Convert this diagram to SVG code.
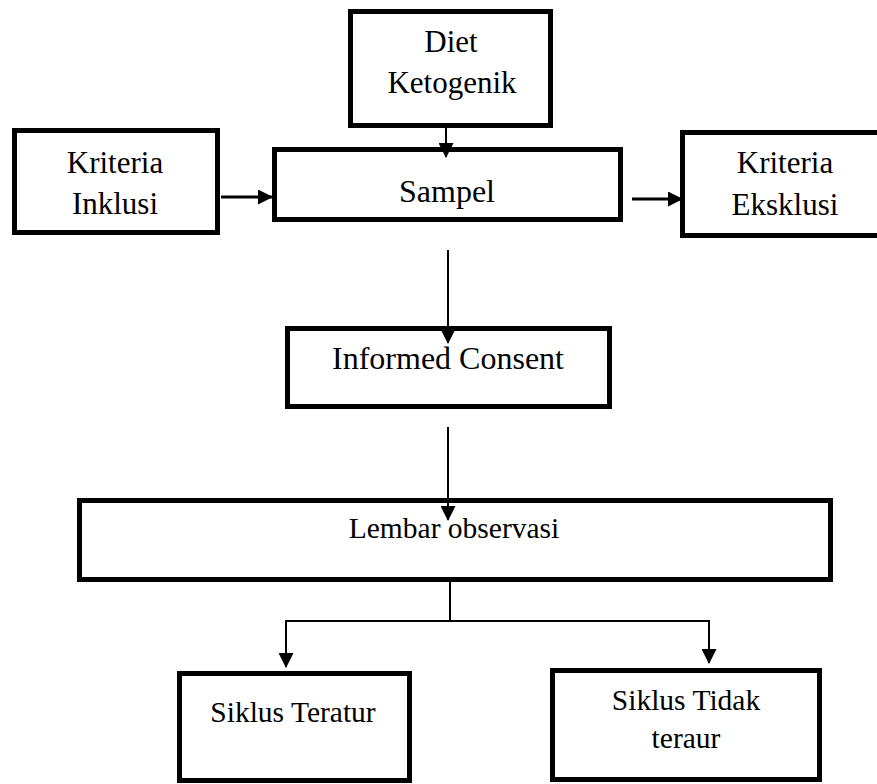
<svg xmlns="http://www.w3.org/2000/svg" width="877" height="784" viewBox="0 0 877 784">
<defs>
<style>
.box{fill:#fff;stroke:#000;stroke-width:5}
.lbl{font-family:"Liberation Serif","Times New Roman",serif;font-size:30px;fill:#000;text-anchor:middle}
.big{font-size:32px}
.mid{font-size:31px}
.sm{font-size:29.5px}
.ln{fill:none;stroke:#000;stroke-width:2}
.arr{marker-end:url(#ah)}
</style>
<marker id="ah" markerUnits="userSpaceOnUse" markerWidth="15" markerHeight="15" refX="14" refY="7.5" orient="auto" viewBox="0 0 15 15">
<path d="M0,0 L15,7.5 L0,15 z" fill="#000"/>
</marker>
</defs>
<rect width="877" height="784" fill="#fff"/>
<g id="diet"><rect class="box" x="350.5" y="11.5" width="200" height="114"/><text class="lbl mid" x="451" y="52">Diet</text><text class="lbl mid" x="452" y="93">Ketogenik</text></g>
<g id="inklusi"><rect class="box" x="14.5" y="130.5" width="203" height="102"/><text class="lbl mid" x="115" y="173">Kriteria</text><text class="lbl mid" x="115" y="214">Inklusi</text></g>
<g id="sampel"><rect class="box" x="274.5" y="149.5" width="346" height="70"/><text class="lbl big" x="447" y="202">Sampel</text></g>
<g id="eksklusi"><rect class="box" x="682.5" y="132.5" width="200" height="103"/><text class="lbl mid" x="785" y="173">Kriteria</text><text class="lbl mid" x="785" y="215">Eksklusi</text></g>
<g id="consent"><rect class="box" x="287.5" y="328.5" width="322" height="78"/><text class="lbl big" x="448" y="369">Informed Consent</text></g>
<g id="lembar"><rect class="box" x="79.5" y="500.5" width="751" height="79"/><text class="lbl sm" x="454" y="538">Lembar observasi</text></g>
<g id="teratur"><rect class="box" x="179.5" y="673.5" width="230" height="107"/><text class="lbl sm" x="293" y="722">Siklus Teratur</text></g>
<g id="tidak"><rect class="box" x="552.5" y="670.5" width="267" height="109"/><text class="lbl sm" x="686" y="710">Siklus Tidak</text><text class="lbl sm" x="686" y="748">teraur</text></g>
<g id="connectors">
<line class="ln arr" x1="446" y1="128" x2="446" y2="157"/>
<line class="ln arr" x1="221" y1="197" x2="272" y2="197" style="stroke-width:3"/>
<line class="ln arr" x1="632" y1="199" x2="682" y2="199" style="stroke-width:3"/>
<line class="ln arr" x1="448" y1="250" x2="448" y2="343"/>
<line class="ln arr" x1="448" y1="427" x2="448" y2="520"/>
<path class="ln" d="M450,582 V621 M286,621 H709"/>
<line class="ln arr" x1="286" y1="620" x2="286" y2="667"/>
<line class="ln arr" x1="709" y1="620" x2="709" y2="663"/>
</g>
</svg>
